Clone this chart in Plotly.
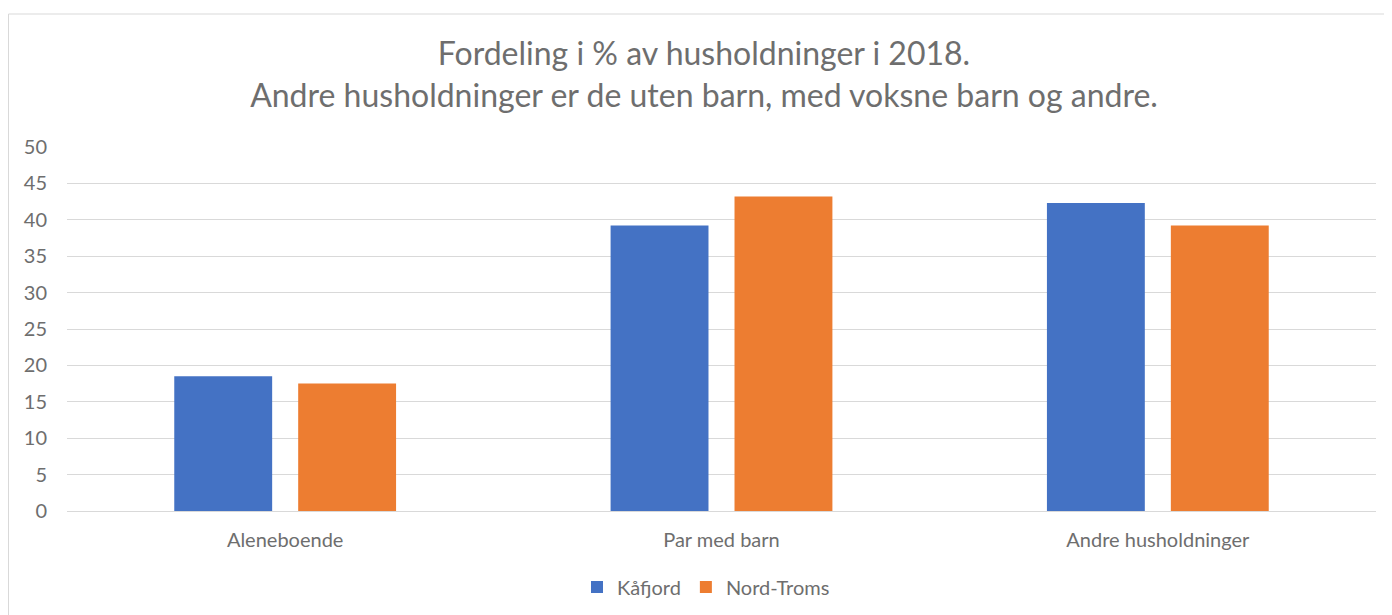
import plotly.graph_objects as go

categories = ["Aleneboende", "Par med barn", "Andre husholdninger"]
kafjord = [18.5, 39.2, 42.3]
nord_troms = [17.5, 43.2, 39.2]
series_names = ["Kåfjord", "Nord-Troms"]
colors = ["#4472C4", "#ED7D31"]
title_lines = ["Fordeling i % av husholdninger i 2018.",
               "Andre husholdninger er de uten barn, med voksne barn og andre."]

FONT = "Lato"
GRAY = "#6E6E6E"

# page body has an 8px margin; size figure to fit the window
W, H = 1384, 607
L, R, T, B = 59, 16, 139, 104
PW = W - L - R
PH = H - T - B

fig = go.Figure()
for name, vals, col in zip(series_names, [kafjord, nord_troms], colors):
    fig.add_trace(go.Bar(x=categories, y=vals, name=name, marker_color=col,
                         marker_line_width=0))

fig.update_layout(
    width=W, height=H,
    margin=dict(l=L, r=R, t=T, b=B, autoexpand=False),
    paper_bgcolor="white", plot_bgcolor="white",
    barmode="group", bargap=0.432, bargroupgap=0.21,
    font=dict(family=FONT, color=GRAY, size=20),
    title=dict(text="<br>".join(title_lines), x=(704 - 8) / W, xanchor="center",
               y=1 - 57 / H, yanchor="middle",
               font=dict(family=FONT, size=32, color=GRAY)),
    legend=dict(orientation="h", xref="container", yref="container",
                x=(706 - 8) / W, xanchor="center",
                y=1 - (587 - 8) / H, yanchor="middle",
                font=dict(size=20, color=GRAY),
                itemwidth=30, traceorder="normal"),
    showlegend=True,
)
fig.update_yaxes(range=[0, 50], dtick=5, showgrid=True, gridcolor="#D9D9D9",
                 gridwidth=1, zeroline=False, showline=False,
                 ticklabelstandoff=19, tickfont=dict(size=20, color=GRAY))
fig.update_xaxes(showline=True, linecolor="#D9D9D9", linewidth=1,
                 ticklabelstandoff=11, tickfont=dict(size=20, color=GRAY))

fig.add_shape(type="rect", xref="paper", yref="paper",
              x0=(0.5 - L) / PW, x1=1.05, y0=-0.4, y1=1 + (T - 6) / PH,
              line=dict(color="#D9D9D9", width=1), fillcolor="rgba(0,0,0,0)",
              layer="below")

fig.write_html("out.html")
